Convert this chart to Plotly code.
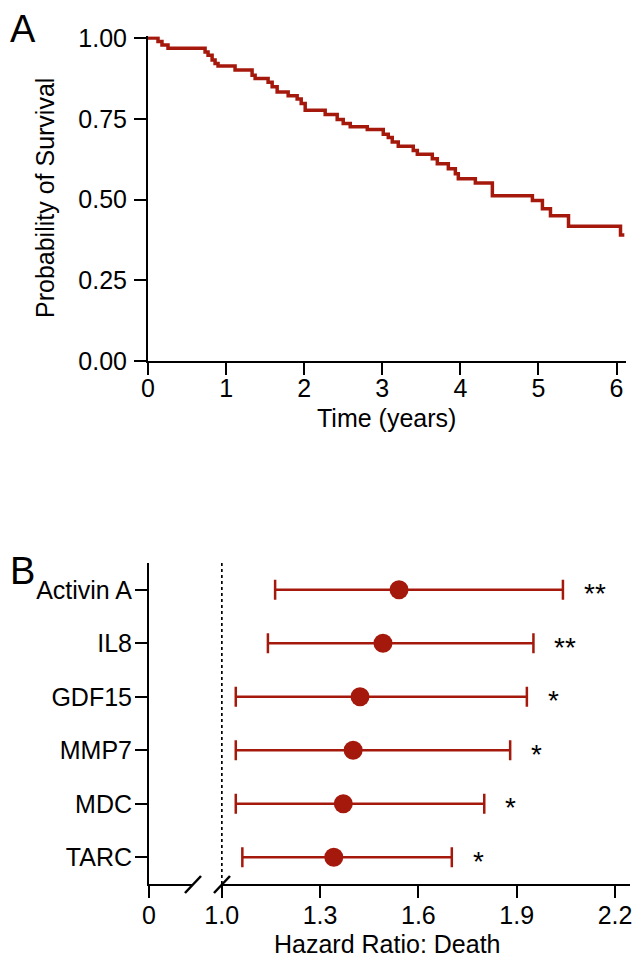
import plotly.graph_objects as go

# ---------------- data ----------------
km_time = [0, 0.128, 0.179, 0.256, 0.731, 0.769, 0.821, 0.859, 0.897, 1.115,
           1.333, 1.372, 1.538, 1.590, 1.654, 1.795, 1.910, 1.962, 2.013, 2.269,
           2.423, 2.500, 2.590, 2.808, 3.013, 3.077, 3.128, 3.205, 3.397, 3.449,
           3.641, 3.705, 3.846, 3.936, 3.974, 4.192, 4.410, 4.923, 5.051, 5.154,
           5.385, 6.051, 6.100]
km_surv = [1.000, 0.989, 0.978, 0.968, 0.957, 0.947, 0.932, 0.921, 0.913, 0.901,
           0.885, 0.875, 0.863, 0.849, 0.833, 0.821, 0.811, 0.797, 0.776, 0.763,
           0.748, 0.735, 0.725, 0.717, 0.702, 0.692, 0.678, 0.665, 0.652, 0.640,
           0.626, 0.611, 0.595, 0.580, 0.564, 0.551, 0.512, 0.497, 0.471, 0.450,
           0.417, 0.390, 0.390]
km_xticks = [0, 1, 2, 3, 4, 5, 6]
km_yticks = [0.0, 0.25, 0.50, 0.75, 1.00]

markers = ["Activin A", "IL8", "GDF15", "MMP7", "MDC", "TARC"]
hr = [1.541, 1.492, 1.422, 1.401, 1.371, 1.342]
ci_low = [1.163, 1.141, 1.043, 1.043, 1.043, 1.063]
ci_high = [2.041, 1.951, 1.931, 1.880, 1.801, 1.702]
signif = ["**", "**", "*", "*", "*", "*"]
hr_ticks = [1.0, 1.3, 1.6, 1.9, 2.2]
hr_tick_text = ["1.0", "1.3", "1.6", "1.9", "2.2"]

# ---------------- style ----------------
W, H = 633, 962
RED = "#A5190C"
FONT = "Liberation Sans, Arial, sans-serif"
FS = 25

def px(x):
    return x / W

def py(y):
    return 1 - y / H

fig = go.Figure()

# Panel A: Kaplan-Meier
fig.add_trace(go.Scatter(
    x=km_time, y=km_surv, mode="lines", line=dict(color=RED, width=3.5, shape="hv"),
    xaxis="x", yaxis="y", showlegend=False, hoverinfo="skip"))

# Panel B: forest plot
err_plus = [h - m for h, m in zip(ci_high, hr)]
err_minus = [m - l for m, l in zip(hr, ci_low)]
fig.add_trace(go.Scatter(
    x=hr, y=markers, mode="markers",
    marker=dict(color=RED, size=19, symbol="circle"),
    error_x=dict(type="data", symmetric=False, array=err_plus, arrayminus=err_minus,
                 color=RED, thickness=2.5, width=10),
    xaxis="x3", yaxis="y3", showlegend=False, hoverinfo="skip"))
# empty trace to create the short (broken) axis segment
fig.add_trace(go.Scatter(x=[], y=[], xaxis="x4", yaxis="y3", showlegend=False))

axis_common = dict(showline=True, linecolor="black", linewidth=2, ticks="outside",
                   tickcolor="black", tickwidth=2, ticklen=12, showgrid=False,
                   zeroline=False, tickfont=dict(family=FONT, size=FS, color="black"),
                   mirror=False, automargin=False)

fig.update_layout(
    width=W, height=H, margin=dict(l=0, r=0, t=0, b=0, autoexpand=False),
    paper_bgcolor="white", plot_bgcolor="white",
    font=dict(family=FONT, size=FS, color="black"),
    xaxis=dict(domain=[px(148), px(625.5)], range=[0, 6.115], tickvals=km_xticks,
               anchor="y", ticklabelstandoff=-8, **axis_common),
    yaxis=dict(domain=[py(361), py(36.4)], range=[0, 1.005], tickvals=km_yticks,
               tickformat=".2f", anchor="x", ticklabelstandoff=2, **axis_common),
    xaxis3=dict(domain=[px(221), px(630)], range=[0.9979, 2.2456], tickvals=hr_ticks,
                ticktext=hr_tick_text, anchor="y3", ticklabelstandoff=-4, **axis_common),
    xaxis4=dict(domain=[px(149), px(193)], range=[0, 0.5], tickvals=[0], ticktext=["0"],
                anchor="y3", ticklabelstandoff=-4, **axis_common),
    yaxis3=dict(domain=[py(884), py(563)], range=[-0.5, 5.5], type="category",
                categoryorder="array", categoryarray=markers[::-1],
                anchor="x4", ticklabelstandoff=-2, **axis_common),
)

shapes = [
    # reference line at HR = 1
    dict(type="line", xref="x3", yref="y3 domain", x0=1.0, x1=1.0, y0=0, y1=1,
         line=dict(color="black", width=2, dash="dot")),
    # axis break slashes
    dict(type="line", xref="paper", yref="paper", x0=px(185), y0=py(893), x1=px(201), y1=py(876),
         line=dict(color="black", width=2.5)),
    dict(type="line", xref="paper", yref="paper", x0=px(214), y0=py(893), x1=px(230), y1=py(876),
         line=dict(color="black", width=2.5)),
]
fig.update_layout(shapes=shapes)

annotations = [
    dict(text="A", x=px(8), y=py(6), xref="paper", yref="paper", xanchor="left",
         yanchor="top", showarrow=False, font=dict(family=FONT, size=38, color="black")),
    dict(text="B", x=px(8), y=py(548), xref="paper", yref="paper", xanchor="left",
         yanchor="top", showarrow=False, font=dict(family=FONT, size=38, color="black")),
    dict(text="Time (years)", x=px(386), y=py(418), xref="paper", yref="paper",
         xanchor="center", yanchor="middle", showarrow=False,
         font=dict(family=FONT, size=FS, color="black")),
    dict(text="Probability of Survival", x=px(45), y=py(198), xref="paper", yref="paper",
         xanchor="center", yanchor="middle", showarrow=False, textangle=-90,
         font=dict(family=FONT, size=FS, color="black")),
    dict(text="Hazard Ratio: Death", x=px(387), y=py(944), xref="paper", yref="paper",
         xanchor="center", yanchor="middle", showarrow=False,
         font=dict(family=FONT, size=FS, color="black")),
]
for m, hi, s in zip(markers, ci_high, signif):
    annotations.append(dict(text=s, x=hi, y=m, xref="x3", yref="y3", xanchor="left",
                            yanchor="middle", xshift=19, yshift=-4, showarrow=False,
                            font=dict(family=FONT, size=28, color="black")))
fig.update_layout(annotations=annotations)

fig.write_html("out.html", config={"displayModeBar": False},
               post_script="document.body.style.margin='0';")
